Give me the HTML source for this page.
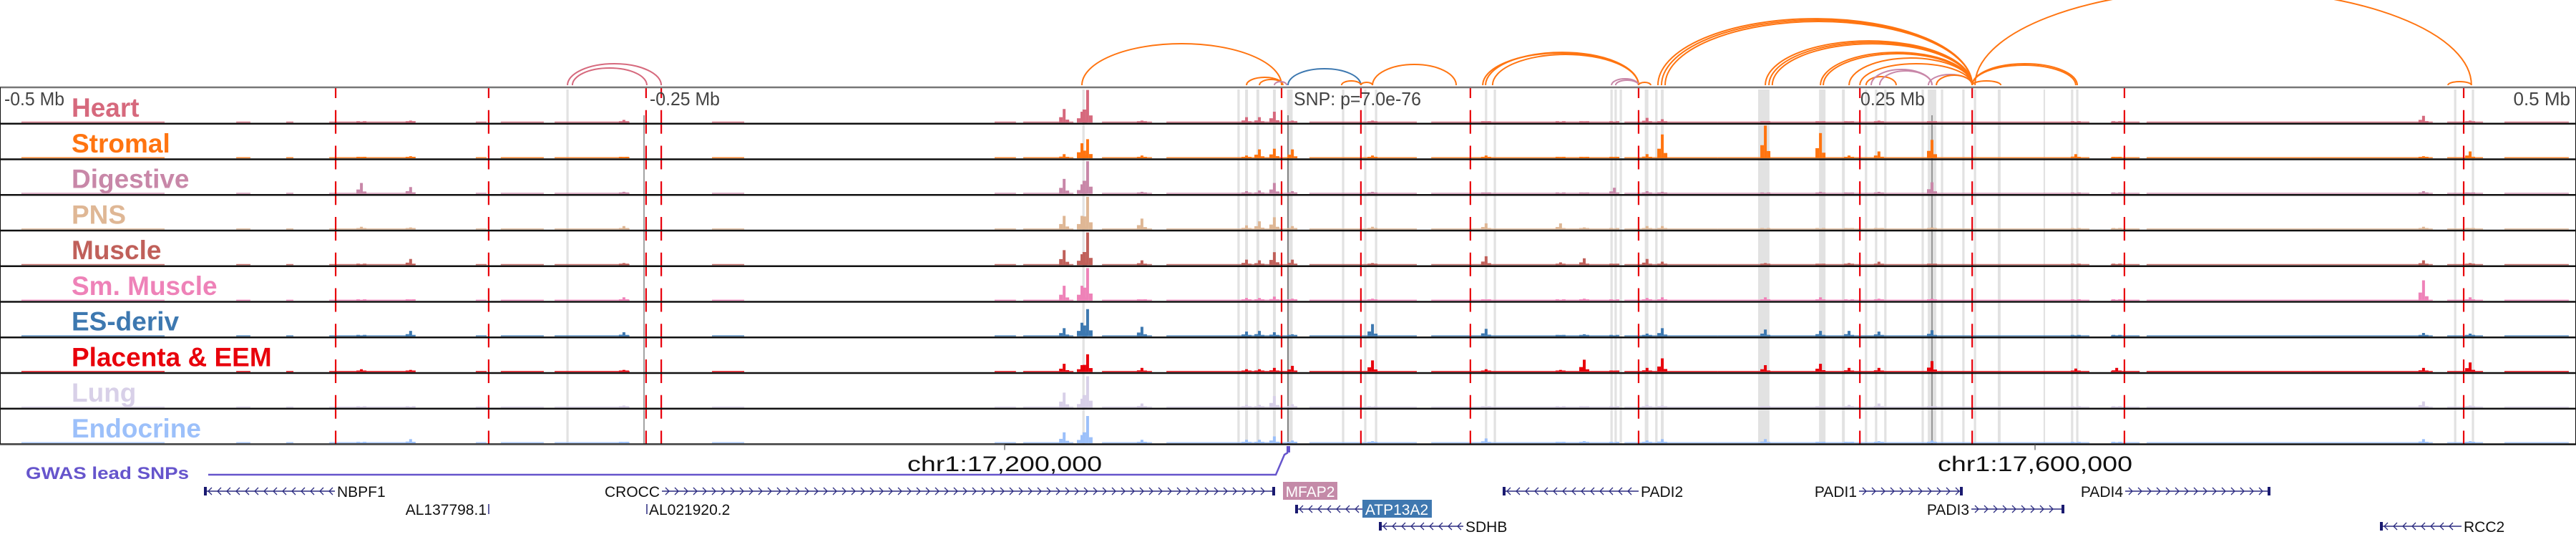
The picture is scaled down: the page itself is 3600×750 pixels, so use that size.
<!DOCTYPE html>
<html><head><meta charset="utf-8">
<style>
html,body{margin:0;padding:0;background:#fff;}
svg{display:block;font-family:"Liberation Sans",Arial,sans-serif;}
</style></head>
<body>
<svg id="chart" width="3600" height="750" viewBox="0 0 3600 750" xmlns="http://www.w3.org/2000/svg">
  <g id="bands"></g>
  <g id="tracks"></g>
  <g id="arcs"></g>
  <g id="redlines"></g>
  <g id="frame"></g>
  <g id="labels"></g>
  <text x="6" y="147" font-size="26" fill="#444" textLength="84" lengthAdjust="spacingAndGlyphs">-0.5 Mb</text>
  <text x="908" y="147" font-size="26" fill="#444" textLength="98" lengthAdjust="spacingAndGlyphs">-0.25 Mb</text>
  <text x="1808" y="147" font-size="26" fill="#444" textLength="178" lengthAdjust="spacingAndGlyphs">SNP: p=7.0e-76</text>
  <text x="2600" y="147" font-size="26" fill="#444" textLength="90" lengthAdjust="spacingAndGlyphs">0.25 Mb</text>
  <text x="3592" y="147" font-size="26" fill="#444" text-anchor="end">0.5 Mb</text>
  <g id="axis"></g>
  <g id="gwas"></g>
  <g id="genes"></g>
</svg>
<script>
// ---- data (kb relative to lead SNP region centre) ----
const trackNames = ["Heart","Stromal","Digestive","PNS","Muscle","Sm. Muscle","ES-deriv","Placenta & EEM","Lung","Endocrine"];
const trackColors = ["#d6697d","#ff7410","#c887a8","#dfb795","#c0605a","#ee82b8","#3d78b0","#e8000b","#d8d0e8","#9cc0fa"];
const peakKb = [-359.7,-340.6,-257.8,-86.9,-80,-77.8,-56.7,-16.1,-11.1,-5.3,1.7,32.8,76.9,105.8,115,126.7,139.4,145.3,185.3,206.7,217.8,229.4,250,305.8,321.7,440.8,458.9];
const heartVals    = [1,3,4,20,16,48,3,8,8,16,3,3,2,1,2,1,7,5,2,2,2,3,2,1,1,10,3];
const stromalVals  = [2,3,2,6,22,28,4,4,13,14,13,4,4,2,2,2,6,35,48,37,4,10,27,6,2,3,10];
const digestVals   = [16,10,3,22,14,48,3,4,5,16,4,3,2,1,2,9,4,3,1,3,2,3,17,1,1,4,2];
const pnsVals      = [4,3,5,20,20,48,16,6,12,18,5,4,9,9,3,1,5,5,1,1,2,2,3,1,1,4,2];
const muscleVals   = [1,9,3,22,16,48,7,8,7,19,8,3,13,4,10,2,9,5,3,2,3,5,2,1,1,7,3];
const smMuscleVals = [1,2,5,22,22,48,2,4,4,6,3,3,2,1,3,1,4,5,5,5,1,3,3,1,1,30,5];
const esVals       = [1,8,6,12,20,40,14,7,8,6,3,18,11,2,3,1,4,12,10,8,8,7,9,1,1,5,4];
const placentaVals = [4,3,3,12,10,26,6,4,4,6,9,17,4,3,18,2,6,20,10,12,6,6,16,5,6,6,14];
const lungVals     = [1,1,3,22,13,46,6,4,4,17,5,1,1,1,2,1,4,3,2,2,4,6,2,1,1,9,3];
const endoVals     = [1,6,2,16,12,40,5,5,5,10,4,3,7,2,3,1,4,6,6,2,2,3,4,1,1,6,3];
const trackValues = [heartVals,stromalVals,digestVals,pnsVals,muscleVals,smMuscleVals,esVals,placentaVals,lungVals,endoVals];
const bgStart = [-491.7,-408.3,-388.9,-372.2,-315.3,-305.6,-284.7,-223.6,-113.9,-102.8,-72.2,-47.2,8.3,55.6,130.6,166.7,319.4,333.3,397.2,450,472.2];
const bgEnd   = [-436.1,-402.8,-386.1,-338.9,-311.1,-288.9,-255.6,-211.1,-105.6,-83.3,-52.8,-0.0,50,127.8,166.7,311.1,330.6,397.2,444.4,463.9,497.2];
const bandKb = [-279.7,-79.4,-16.1,-11.7,-5.3,0.7,-19.2,21.4,30,34.2,76.9,80.3,125.6,127.2,129.2,139.2,143,145.3,184.7,207.4,215.6,224.4,228.3,231.9,246.4,250,253.9,262.2,266.7,276.1,293.6,304.4,306.4,453.1,460];
const bandW  = [0.9,0.9,1.1,1.1,1.1,2.2,0.9,0.9,0.9,0.9,0.9,0.9,0.9,0.9,0.9,1.4,0.9,1.1,4.4,2.5,1.1,0.9,0.9,0.9,0.9,3.3,0.9,0.9,0.9,1.1,0.6,0.9,0.9,0.9,0.9];
const redLineKb = [-369.7,-310.3,-249.2,-243.3,-2.5,28.3,70.8,136.1,222,265.6,324.7,456.4];
const arcStart = [-279.7,-277.8,-80,0,32.8,-16.1,-11.1,-5.3,20.8,28.3,76.7,79.4,75.6,125.6,127.2,136.1,143.6,145,146.4,185.3,186.7,188,206.7,207.8,217.8,222,224.4,226.4,229.7,248.6,251.7,265.6,265.6,265.6,266.7,450.3];
const arcEnd   = [-243.3,-248.9,-2.5,28.3,65.3,-2,-2,-0.5,28.3,32.8,136.1,136.1,136.1,136.1,136.1,140.8,265.6,265.6,265.6,265.6,265.6,265.6,265.6,265.6,265.6,265.6,236.1,250,250,265.6,265.6,306.4,305.8,276.7,459.4,459.4];
const arcH     = [30,24,58,23,29,11,8,5,6,4,46,43,45,9,7,4,93,91,89,62,60,58,46,44,38,30,12,22,20,15,14,30,28,6,134,5];
const arcColor = [0,0,1,6,1,1,1,2,1,1,1,1,1,2,2,1,1,1,1,1,1,1,1,1,1,1,1,2,2,2,1,1,1,1,1,1];
const axisTicks = [-110, 290];
const axisLabels = ["chr1:17,200,000","chr1:17,600,000"];

// ---- scales ----
const X0 = 0, PXKB = 3.6;
function xs(kb){ return X0 + (kb + 500) * PXKB; }
const TOP = 123, TH = 49.75, BOTTOM = TOP + 10*TH;
function ytop(i){ return TOP + i*TH; }
function ys(v){ return v * 0.95; }
const NS = "http://www.w3.org/2000/svg";
function mk(tag, attrs, parent){ const e=document.createElementNS(NS,tag); for(const k in attrs) e.setAttribute(k, attrs[k]); parent.appendChild(e); return e; }

// bands
const bands = document.getElementById('bands');
bandKb.forEach((c,i)=>{
  const r = mk('rect',{x:xs(c-bandW[i]/2), y:TOP+2, width:Math.max(2,bandW[i]*PXKB), height:BOTTOM-TOP-2, fill:'#e2e2e2'}, bands);
  
  
});
const snpLine = mk('line',{x1:xs(0),x2:xs(0),y1:TOP+38,y2:BOTTOM,stroke:'#666','stroke-width':1.5}, bands);


[-250,250].forEach(k=>{
  const l = mk('line',{x1:xs(k),x2:xs(k),y1:TOP+38,y2:BOTTOM,stroke:'#666','stroke-width':1.2}, bands);
  
  
});

// tracks
const tracks = document.getElementById('tracks');
const labels = document.getElementById('labels');
trackNames.forEach((name,i)=>{
  const g = mk('g',{}, tracks);
  
  
  const base = ytop(i) + TH - 1.5;
  const col = trackColors[i];
  bgStart.forEach((s,j)=>{
    const r = mk('rect',{x:xs(s), y:base-1.5, width:(bgEnd[j]-s)*PXKB, height:1.5, fill:col, opacity:0.85}, g);
    
    
  });
  trackValues[i].forEach((v,j)=>{
    const cx = xs(peakKb[j]); const h = ys(v);
    const b = mk('rect',{x:cx-2, y:base-h, width:4, height:h, fill:col}, g);
    
    
    const sh = Math.max(2, h*0.4);
    const s1 = mk('rect',{x:cx-7, y:base-sh, width:5, height:sh, fill:col}, g);
    
    
    const sh2 = Math.max(2, h*0.22);
    const s2 = mk('rect',{x:cx+2, y:base-sh2, width:5, height:sh2, fill:col}, g);
    
    
  });
  const t = mk('text',{x:100, y:ytop(i)+40, 'font-size':37, 'font-weight':'bold', fill:col}, labels);
  t.textContent = name;
  
  
});

// frame
const frame = document.getElementById('frame');
const topLine = mk('line',{x1:0,x2:3600,y1:TOP-1,y2:TOP-1,stroke:'#777','stroke-width':2.5}, frame);


for(let i=1;i<=10;i++){
  const l = mk('line',{x1:0,x2:3600,y1:ytop(i),y2:ytop(i),stroke:'#111','stroke-width':2.5}, frame);
  
  
}
const lb = mk('line',{x1:0.5,x2:0.5,y1:TOP-1,y2:BOTTOM,stroke:'#111','stroke-width':1}, frame);


const rb = mk('line',{x1:3599.5,x2:3599.5,y1:TOP-1,y2:BOTTOM,stroke:'#111','stroke-width':1}, frame);



// red dashed lines
const red = document.getElementById('redlines');
redLineKb.forEach(k=>{
  const l = mk('line',{x1:xs(k),x2:xs(k),y1:TOP,y2:BOTTOM,stroke:'#e8000b','stroke-width':2.2,'stroke-dasharray':'33 16.75','stroke-dashoffset':19}, red);
  
  
});

// arcs
const arcs = document.getElementById('arcs');
const ARC_BASE = 119;
arcStart.forEach((s,i)=>{
  const x1 = xs(s), x2 = xs(arcEnd[i]); const rx = Math.abs(x2-x1)/2; const h = arcH[i];
  const p = mk('path',{d:`M${x1},${ARC_BASE} A${rx},${h} 0 0 1 ${x2},${ARC_BASE}`, fill:'none', stroke:trackColors[arcColor[i]], 'stroke-width':2}, arcs);
  
  
});

// axis
const axis = document.getElementById('axis');
const al = mk('line',{x1:0,x2:xs(axisTicks[0]),y1:BOTTOM+0.5,y2:BOTTOM+0.5,stroke:'#777','stroke-width':1}, axis);


axisTicks.forEach((k,i)=>{
  const t = mk('line',{x1:xs(k),x2:xs(k),y1:BOTTOM,y2:BOTTOM+8,stroke:'#555','stroke-width':1.2}, axis);
  
  
  const tx = mk('text',{x:xs(k), y:658, 'font-size':30, 'text-anchor':'middle', fill:'#111', textLength:272, lengthAdjust:'spacingAndGlyphs'}, axis);
  tx.textContent = axisLabels[i];
  
  
});

// gwas
const gw = document.getElementById('gwas');
const gl = mk('text',{x:36, y:669, 'font-size':24, 'font-weight':'bold', fill:'#6655cc', textLength:228, lengthAdjust:'spacingAndGlyphs'}, gw);
gl.textContent = 'GWAS lead SNPs';


const gm = mk('rect',{x:xs(0)-2, y:623, width:5, height:9, fill:'#6655cc'}, gw);


const gp = mk('path',{d:`M${xs(0)},632 L${xs(0)-5},635 L${xs(0)-17},663 L291,663`, fill:'none', stroke:'#6655cc','stroke-width':2.5}, gw);



// genes
const genes = document.getElementById('genes');
const rowY = [686, 711, 735];
const geneList = [
  ["NBPF1",285,468,0,-1,471,'start',null],
  ["CROCC",925,1781,0,1,922,'end',null],
  ["PADI2",2100,2290,0,-1,2293,'start',null],
  ["PADI1",2598,2742,0,1,2595,'end',null],
  ["PADI4",2970,3172,0,1,2967,'end',null],
  ["ATP13A2",1810,1904,1,-1,null,null,'#3f78b0'],
  ["PADI3",2755,2884,1,1,2752,'end',null],
  ["SDHB",1927,2045,2,-1,2048,'start',null],
  ["RCC2",3326,3440,2,-1,3443,'start',null]
];
geneList.forEach(gd=>{
  const [name,x1,x2,row,dir,lx,anchor,box] = gd;
  const y = rowY[row];
  const g = mk('g',{}, genes);
  
  
  mk('line',{x1:x1,x2:x2,y1:y,y2:y,stroke:'#2b2b80','stroke-width':1.5}, g);
  let d='';
  for(let x=x1+8;x<x2-4;x+=13){ d += dir>0 ? `M${x-3},${y-5} L${x+2},${y} L${x-3},${y+5} ` : `M${x+3},${y-5} L${x-2},${y} L${x+3},${y+5} `; }
  mk('path',{d:d,fill:'none',stroke:'#2b2b80','stroke-width':1.3}, g);
  mk('rect',{x:dir>0?x2-3:x1, y:y-6, width:4, height:12, fill:'#1a1a70'}, g);
  if(box){
    mk('rect',{x:x2, y:y-13, width:97, height:25, fill:box}, g);
    const t = mk('text',{x:x2+48, y:y+8, 'font-size':21, 'text-anchor':'middle', fill:'#fff'}, g);
    t.textContent = name;
  } else {
    const t = mk('text',{x:lx, y:y+8, 'font-size':21, 'text-anchor':anchor, fill:'#111'}, g);
    t.textContent = name;
  }
});
const mf = mk('g',{}, genes);


mk('rect',{x:1793, y:673, width:76, height:25, fill:'#c48aa8'}, mf);
const mft = mk('text',{x:1831, y:694, 'font-size':21, 'text-anchor':'middle', fill:'#fff'}, mf);
mft.textContent = 'MFAP2';
const smallGenes = [["AL137798.1",683,'end'],["AL021920.2",904,'start']];
smallGenes.forEach(sg=>{
  const g = mk('g',{}, genes);
  
  
  mk('line',{x1:sg[1],x2:sg[1],y1:704,y2:718,stroke:'#2b2b80','stroke-width':1.5}, g);
  const t = mk('text',{x:sg[2]==='end'?sg[1]-3:sg[1]+3, y:719, 'font-size':21, 'text-anchor':sg[2], fill:'#111'}, g);
  t.textContent = sg[0];
});
</script>
</body></html>
